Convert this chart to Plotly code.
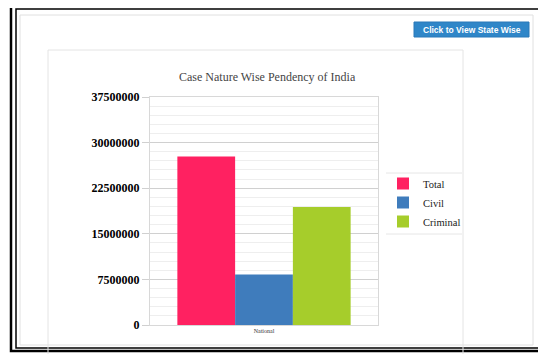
import plotly.graph_objects as go

categories = ["National"]
series_names = ["Total", "Civil", "Criminal"]
series_values = [[27700000], [8300000], [19400000]]
series_colors = ["#ff2161", "#3f7cbc", "#a6cd2b"]
y_ticks = [0, 7500000, 15000000, 22500000, 30000000, 37500000]

# page body has an 8px margin; work in reference pixel coords and shift
O = 8
W, H = 546 - O, 354 - O
L, R, T, B = 150 - O, 378 - O, 97 - O, 325 - O

def px(x):
    return (x - O - L) / (R - L)

def py(y):
    return (B - (y - O)) / (B - T)

fig = go.Figure()
for name, vals, col in zip(series_names, series_values, series_colors):
    fig.add_trace(go.Bar(x=categories, y=vals, name=name, marker_color=col,
                         marker_line_width=0))

serif = "Liberation Serif"
fig.update_layout(
    width=W, height=H,
    margin=dict(l=L, r=W - R, t=T, b=H - B, autoexpand=False),
    paper_bgcolor="white", plot_bgcolor="white",
    barmode="group", bargap=0.24, bargroupgap=0,
    showlegend=True,
    legend=dict(x=px(383), y=py(169), xanchor="left", yanchor="top",
                font=dict(family=serif, size=10.5, color="#222"),
                borderwidth=0, bgcolor="rgba(0,0,0,0)",
                itemwidth=30, tracegroupgap=0),
    xaxis=dict(showgrid=False, showline=True, linecolor="#d8d8d8", mirror=True,
               tickfont=dict(family=serif, size=6, color="#333"), ticks=""),
    yaxis=dict(range=[0, 37500000], tickvals=y_ticks, ticktext=[str(v) for v in y_ticks],
               showgrid=True, gridcolor="#d0d0d0", gridwidth=1,
               minor=dict(dtick=1500000, showgrid=True, gridcolor="#eeeeee", gridwidth=1),
               showline=True, linecolor="#d8d8d8", mirror=True,
               ticks="outside", ticklen=7, tickcolor="#d0d0d0",
               tickfont=dict(family=serif, size=12, color="black", weight="bold"),
               zeroline=False),
    font=dict(family=serif),
)

shapes = []
# outer black double frame
shapes.append(dict(type="rect", xref="paper", yref="paper", layer="below",
                   x0=px(11), x1=px(545), y0=py(351), y1=py(4.5),
                   line=dict(color="black", width=2.5)))
shapes.append(dict(type="rect", xref="paper", yref="paper", layer="below",
                   x0=px(16), x1=px(540), y0=py(348), y1=py(9),
                   line=dict(color="black", width=1.5)))
# light inner frame
shapes.append(dict(type="rect", xref="paper", yref="paper", layer="below",
                   x0=px(20), x1=px(533), y0=py(345), y1=py(15),
                   line=dict(color="#e0e0e0", width=1)))
# inner panel
shapes.append(dict(type="rect", xref="paper", yref="paper", layer="below",
                   x0=px(48), x1=px(463), y0=py(360), y1=py(50),
                   line=dict(color="#e4e4e4", width=1)))
# legend separators (top and bottom)
for yy in (173, 234):
    shapes.append(dict(type="line", xref="paper", yref="paper", layer="below",
                       x0=px(386), x1=px(462), y0=py(yy), y1=py(yy),
                       line=dict(color="#e6e6e6", width=1)))
# button
shapes.append(dict(type="rect", xref="paper", yref="paper", layer="below",
                   x0=px(414), x1=px(529), y0=py(37), y1=py(22),
                   line=dict(color="#2a78b8", width=1), fillcolor="#2f86c8"))
fig.update_layout(shapes=shapes)

fig.add_annotation(text="Click to View State Wise", xref="paper", yref="paper",
                   x=px(471.5), y=py(29.5), showarrow=False,
                   xanchor="center", yanchor="middle",
                   font=dict(family="Liberation Sans", size=8.5, color="white", weight="bold"))
fig.add_annotation(text="Case Nature Wise Pendency of India", xref="paper", yref="paper",
                   x=px(267), y=py(77), showarrow=False,
                   xanchor="center", yanchor="middle",
                   font=dict(family=serif, size=12, color="#444"))

fig.write_html("out.html")
